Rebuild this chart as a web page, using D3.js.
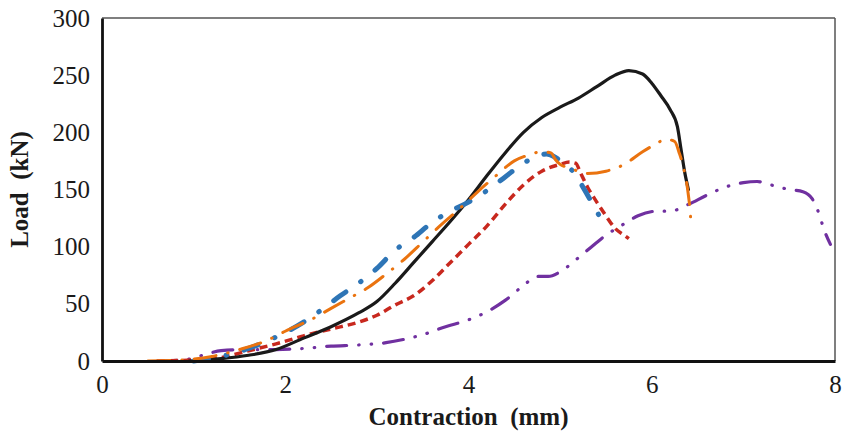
<!DOCTYPE html>
<html>
<head>
<meta charset="utf-8">
<script src="https://cdn.jsdelivr.net/npm/d3@7"></script>
<style>
  body { margin: 0; background: #fff; }
  text { font-family: "Liberation Serif", "Times New Roman", serif; }
</style>
</head>
<body>
<div id="container"></div>
<script>
// contraction (mm), load (kN)
const blackCurve = [[0.95,0],[1.3,2],[1.6,5],[1.9,10],[2.2,20],[2.5,30],[2.8,42],[3.0,52],[3.2,68],[3.4,86],[3.6,104],[3.8,122],[4.0,141],[4.2,162],[4.4,182],[4.6,200],[4.8,213],[5.0,222],[5.2,230],[5.4,240],[5.6,250],[5.75,254],[5.9,251],[6.0,243],[6.1,232],[6.2,220],[6.28,205],[6.32,185],[6.36,165],[6.4,150]];
const orangeCurve = [[0.5,0],[0.9,1],[1.2,4],[1.5,10],[1.8,18],[2.0,26],[2.3,37],[2.5,46],[2.7,55],[2.9,64],[3.1,76],[3.3,89],[3.5,104],[3.7,119],[3.9,133],[4.1,148],[4.3,162],[4.5,175],[4.65,180],[4.8,183],[4.9,182],[4.95,176],[5.0,172],[5.1,169],[5.3,164],[5.5,166],[5.7,172],[5.9,183],[6.05,190],[6.15,194],[6.25,192],[6.3,182],[6.35,168],[6.4,145],[6.42,130],[6.43,118]];
const blueCurve = [[1.0,0],[1.3,4],[1.6,11],[1.9,21],[2.2,34],[2.4,45],[2.6,57],[2.8,68],[3.0,81],[3.2,97],[3.4,108],[3.6,121],[3.8,131],[4.0,139],[4.2,149],[4.4,161],[4.6,173],[4.75,179],[4.85,181],[4.95,178],[5.05,172],[5.15,165],[5.25,152],[5.35,138],[5.42,128],[5.47,120]];
const redCurve = [[0.6,0],[1.0,1],[1.3,3],[1.6,9],[1.9,15],[2.2,22],[2.5,28],[2.8,34],[3.0,40],[3.2,49],[3.4,57],[3.6,70],[3.8,86],[4.0,102],[4.2,118],[4.4,137],[4.6,154],[4.8,166],[5.0,172],[5.1,174],[5.17,173],[5.22,165],[5.3,152],[5.4,139],[5.5,127],[5.6,116],[5.7,110],[5.75,107]];
const purpleCurve = [[0.6,0],[0.9,1],[1.1,5],[1.3,9],[1.6,10],[1.9,10],[2.2,11],[2.5,13],[2.8,14],[3.1,16],[3.3,19],[3.5,23],[3.75,30],[4.0,36],[4.2,43],[4.4,53],[4.6,66],[4.75,74],[4.87,74],[5.0,78],[5.15,87],[5.3,97],[5.5,110],[5.7,120],[5.85,127],[6.05,131],[6.2,131],[6.4,137],[6.6,145],[6.8,152],[7.0,156],[7.15,157],[7.3,154],[7.5,150],[7.65,148],[7.75,142],[7.82,130],[7.88,115],[7.95,102]];

const xTicks = [0, 2, 4, 6, 8];
const yTicks = [0, 50, 100, 150, 200, 250, 300];

const W = 842, H = 436;
const padLeft = 102, padRight = 835, padTop = 18, padBottom = 361;

const svg = d3.select("#container")
    .append("svg")
    .attr("width", W)
    .attr("height", H);

const x = d3.scaleLinear().domain([0, 8]).range([padLeft, padRight]);
const y = d3.scaleLinear().domain([0, 300]).range([padBottom, padTop]);

// frame: thin grey top/right, heavier black left/bottom
svg.append("line").attr("x1", padLeft).attr("x2", padRight).attr("y1", padTop).attr("y2", padTop)
    .attr("stroke", "#555").attr("stroke-width", 1.5);
svg.append("line").attr("x1", padRight).attr("x2", padRight).attr("y1", padTop).attr("y2", padBottom)
    .attr("stroke", "#555").attr("stroke-width", 1.5);

const lineMaker = d3.line()
    .x(d => x(d[0]))
    .y(d => y(d[1]))
    .curve(d3.curveMonotoneX);

const series = [
    { data: purpleCurve, color: "#7030a0", width: 3.2, dash: "20,12,0.5,12,0.5,12", cap: "round" },
    { data: redCurve, color: "#c8281e", width: 3.5, dash: "8,5", cap: "butt" },
    { data: blackCurve, color: "#1a1a1a", width: 3.2, dash: null, cap: "round" },
    { data: blueCurve, color: "#2e75b6", width: 5, dash: "15,18,0.5,18", cap: "round" },
    { data: orangeCurve, color: "#ea730f", width: 3, dash: "22,12,0.5,12", cap: "round" }
];

svg.selectAll(".curve").data(series)
    .enter()
    .append("path")
    .attr("class", "curve")
    .attr("d", d => lineMaker(d.data))
    .attr("stroke", d => d.color)
    .attr("stroke-width", d => d.width)
    .attr("stroke-dasharray", d => d.dash)
    .attr("stroke-linecap", d => d.cap)
    .attr("stroke-linejoin", "round")
    .style("fill", "none");

const xAxis = d3.axisBottom(x).tickValues(xTicks).tickSize(0).tickPadding(14);
const xAxisGroup = svg.append("g")
    .attr("transform", "translate(0," + padBottom + ")")
    .call(xAxis);

const yAxis = d3.axisLeft(y).tickValues(yTicks).tickSize(0).tickPadding(12);
const yAxisGroup = svg.append("g")
    .attr("transform", "translate(" + padLeft + ",0)")
    .call(yAxis);

[xAxisGroup, yAxisGroup].forEach(g => {
    g.select(".domain").attr("stroke", "#111").attr("stroke-width", 2.8);
    g.selectAll("text")
        .attr("fill", "#1a1a1a")
        .style("font-family", "'Liberation Serif', 'Times New Roman', serif")
        .style("font-size", "25px");
});

svg.append("text")
    .attr("x", (padLeft + padRight) / 2)
    .attr("y", 425)
    .attr("text-anchor", "middle")
    .style("font-size", "25px")
    .style("font-weight", "bold")
    .attr("fill", "#1a1a1a")
    .text("Contraction\u00a0\u00a0(mm)");

svg.append("text")
    .attr("transform", "translate(28," + (padTop + padBottom) / 2 + ") rotate(-90)")
    .attr("text-anchor", "middle")
    .style("font-size", "25px")
    .style("font-weight", "bold")
    .attr("fill", "#1a1a1a")
    .text("Load\u00a0\u00a0(kN)");
</script>
</body>
</html>
